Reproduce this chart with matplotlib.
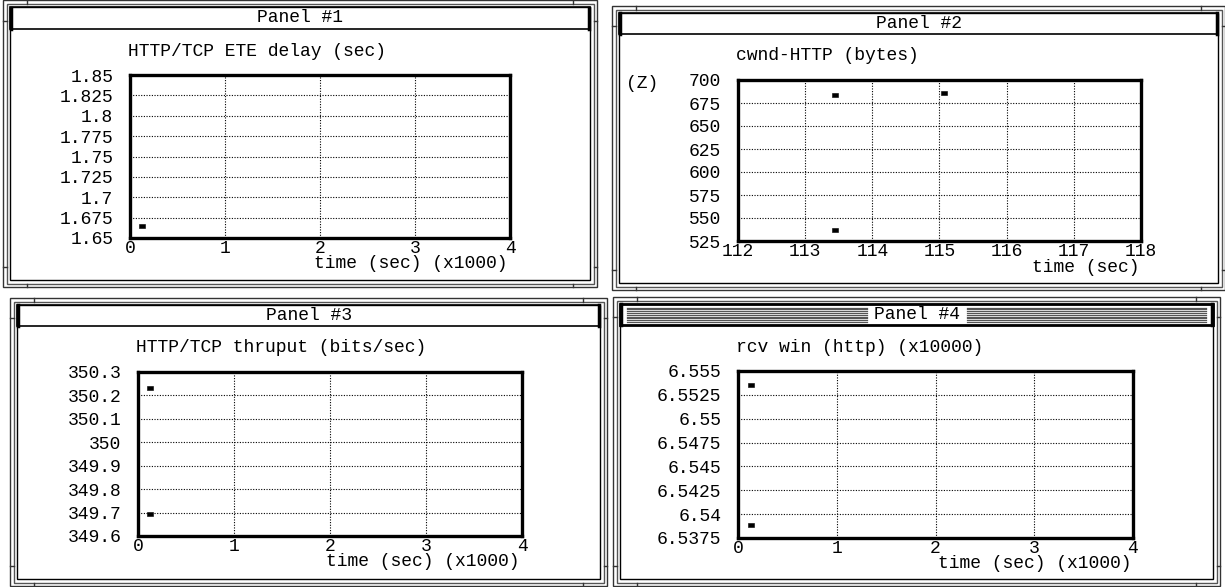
import numpy as np
import matplotlib
matplotlib.use("Agg")
import matplotlib.pyplot as plt
from matplotlib.patches import Rectangle
from matplotlib.lines import Line2D
from matplotlib.transforms import offset_copy

W, H = 1225, 587

# panel 1: HTTP/TCP end-to-end delay
delay_time = [125]          # sec
delay_sec = [1.665]
delay_ticks = [1.65, 1.675, 1.7, 1.725, 1.75, 1.775, 1.8, 1.825, 1.85]

# panel 2: congestion window
cwnd_time = [113.44, 113.44, 115.06]
cwnd_bytes = [684, 537, 686]
cwnd_ticks = [525, 550, 575, 600, 625, 650, 675, 700]
cwnd_xticks = [112, 113, 114, 115, 116, 117, 118]

# panel 3: throughput
thru_time = [130, 130]
thru_bps = [350.233, 349.696]
thru_ticks = [349.6, 349.7, 349.8, 349.9, 350, 350.1, 350.2, 350.3]

# panel 4: receive window (x10000)
rcv_time = [130, 130]
rcv_win = [6.5535, 6.5389]
rcv_ticks = [6.5375, 6.54, 6.5425, 6.545, 6.5475, 6.55, 6.5525, 6.555]

time_ticks = [0, 1, 2, 3, 4]   # x1000 sec

FS = 13
plt.rcParams["font.family"] = ["Liberation Mono", "DejaVu Sans Mono"]
plt.rcParams["font.size"] = FS

fig = plt.figure(figsize=(W / 100, H / 100), dpi=100)
fig.patch.set_facecolor("white")

# flat little bar used as the sample marker
DOT = [(-1, -0.65), (1, -0.65), (1, 0.65), (-1, 0.65), (-1, -0.65)]


def fx(x):
    return x / W


def fy(y):
    return 1 - y / H


def rect(x0, y0, x1, y1, **kw):
    fig.add_artist(Rectangle((fx(x0), fy(y1)), fx(x1) - fx(x0), fy(y0) - fy(y1),
                             transform=fig.transFigure, fill=False, **kw))


def hline(x0, x1, y, **kw):
    fig.add_artist(Line2D([fx(x0), fx(x1)], [fy(y), fy(y)], transform=fig.transFigure, **kw))


def vline(x, y0, y1, **kw):
    fig.add_artist(Line2D([fx(x), fx(x)], [fy(y0), fy(y1)], transform=fig.transFigure, **kw))


def panel_frame(box, name, active=False):
    x0, y0, x1, y1 = box
    rect(x0, y0, x1, y1, lw=1.0, ec="#333333")
    rect(x0 + 3.5, y0 + 3.5, x1 - 3.5, y1 - 3.5, lw=1.0, ec="#555555")
    rect(x0 + 7, y0 + 7, x1 - 7, y1 - 7, lw=1.0, ec="black")
    # little joints between the outer lines
    for xx in (x0 + 24, x1 - 24):
        vline(xx, y0, y0 + 3.5, lw=1.0, color="#333333")
        vline(xx, y1 - 3.5, y1, lw=1.0, color="#333333")
    for yy in (y0 + 20, y1 - 20):
        hline(x0, x0 + 3.5, yy, lw=1.0, color="#333333")
        hline(x1 - 3.5, x1, yy, lw=1.0, color="#333333")

    # title bar
    bx0, bx1 = x0 + 7, x1 - 7
    by0, by1 = y0 + 7, y0 + 28
    rect(bx0, by0, bx1, by1, lw=2.0 if active else 1.2, ec="black", zorder=3)
    vline(bx0 + 1, by0, by1, lw=2.5, color="black")
    vline(bx1 - 1, by0, by1, lw=2.5, color="black")
    cx, cy = (bx0 + bx1) / 2, (by0 + by1) / 2
    fig.text(fx(cx), fy(cy), name, ha="center", va="center", fontsize=FS)
    if active:
        half = 50
        for yy in np.arange(by0 + 3.5, by1 - 2.5, 1.8):
            hline(bx0 + 7, cx - half, yy, lw=0.9, color="#555555")
            hline(cx + half, bx1 - 7, yy, lw=0.9, color="#555555")


def chart(box, title, xs, ys, xticks, yticks, xlim, ylim, xlabel):
    x0, y0, x1, y1 = box
    ax = fig.add_axes([fx(x0), fy(y1), fx(x1) - fx(x0), fy(y0) - fy(y1)])
    ax.plot(xs, ys, ls="none", marker=DOT, ms=4, mfc="black", mec="black",
            mew=0.4, clip_on=False, zorder=5)
    ax.set_xlim(*xlim)
    ax.set_ylim(*ylim)
    ax.set_xticks(xticks)
    ax.set_yticks(yticks)
    ax.set_xticklabels([f"{v:g}" for v in xticks])
    ax.set_yticklabels([f"{round(v, 6):g}" for v in yticks])
    ax.tick_params(length=0, labelsize=FS)
    ax.tick_params(axis="y", pad=12)
    ax.tick_params(axis="x", pad=1.5)
    for s in ax.spines.values():
        s.set_linewidth(2.4)
        s.set_color("black")
    ax.grid(True, color="black", lw=0.8, ls=(0, (1, 1.4)))
    ax.set_axisbelow(True)
    ax.text(0, 1, title, transform=offset_copy(ax.transAxes, fig=fig, x=-2, y=24, units="dots"),
            ha="left", va="center", fontsize=FS)
    ax.text(1, 0, xlabel, transform=offset_copy(ax.transAxes, fig=fig, x=-2, y=-26, units="dots"),
            ha="right", va="center", fontsize=FS)
    return ax


panel_frame((3, 0.5, 597, 287), "Panel #1")
panel_frame((612, 6, 1225, 290), "Panel #2")
panel_frame((10, 298, 607, 586), "Panel #3")
panel_frame((613, 297, 1220, 586), "Panel #4", active=True)

chart((130, 75, 510, 238), "HTTP/TCP ETE delay (sec)",
      np.array(delay_time) / 1000, delay_sec, time_ticks, delay_ticks,
      (0, 4), (1.65, 1.85), "time (sec) (x1000)")

chart((738, 80, 1141, 241), "cwnd-HTTP (bytes)",
      cwnd_time, cwnd_bytes, cwnd_xticks, cwnd_ticks,
      (112, 118), (525, 700), "time (sec)")
fig.text(fx(626), fy(83), "(Z)", ha="left", va="center", fontsize=FS)

chart((138, 372, 522, 536), "HTTP/TCP thruput (bits/sec)",
      np.array(thru_time) / 1000, thru_bps, time_ticks, thru_ticks,
      (0, 4), (349.6, 350.3), "time (sec) (x1000)")

chart((738, 371, 1133, 538), "rcv win (http) (x10000)",
      np.array(rcv_time) / 1000, rcv_win, time_ticks, rcv_ticks,
      (0, 4), (6.5375, 6.555), "time (sec) (x1000)")

fig.savefig("out.png", dpi=100)
